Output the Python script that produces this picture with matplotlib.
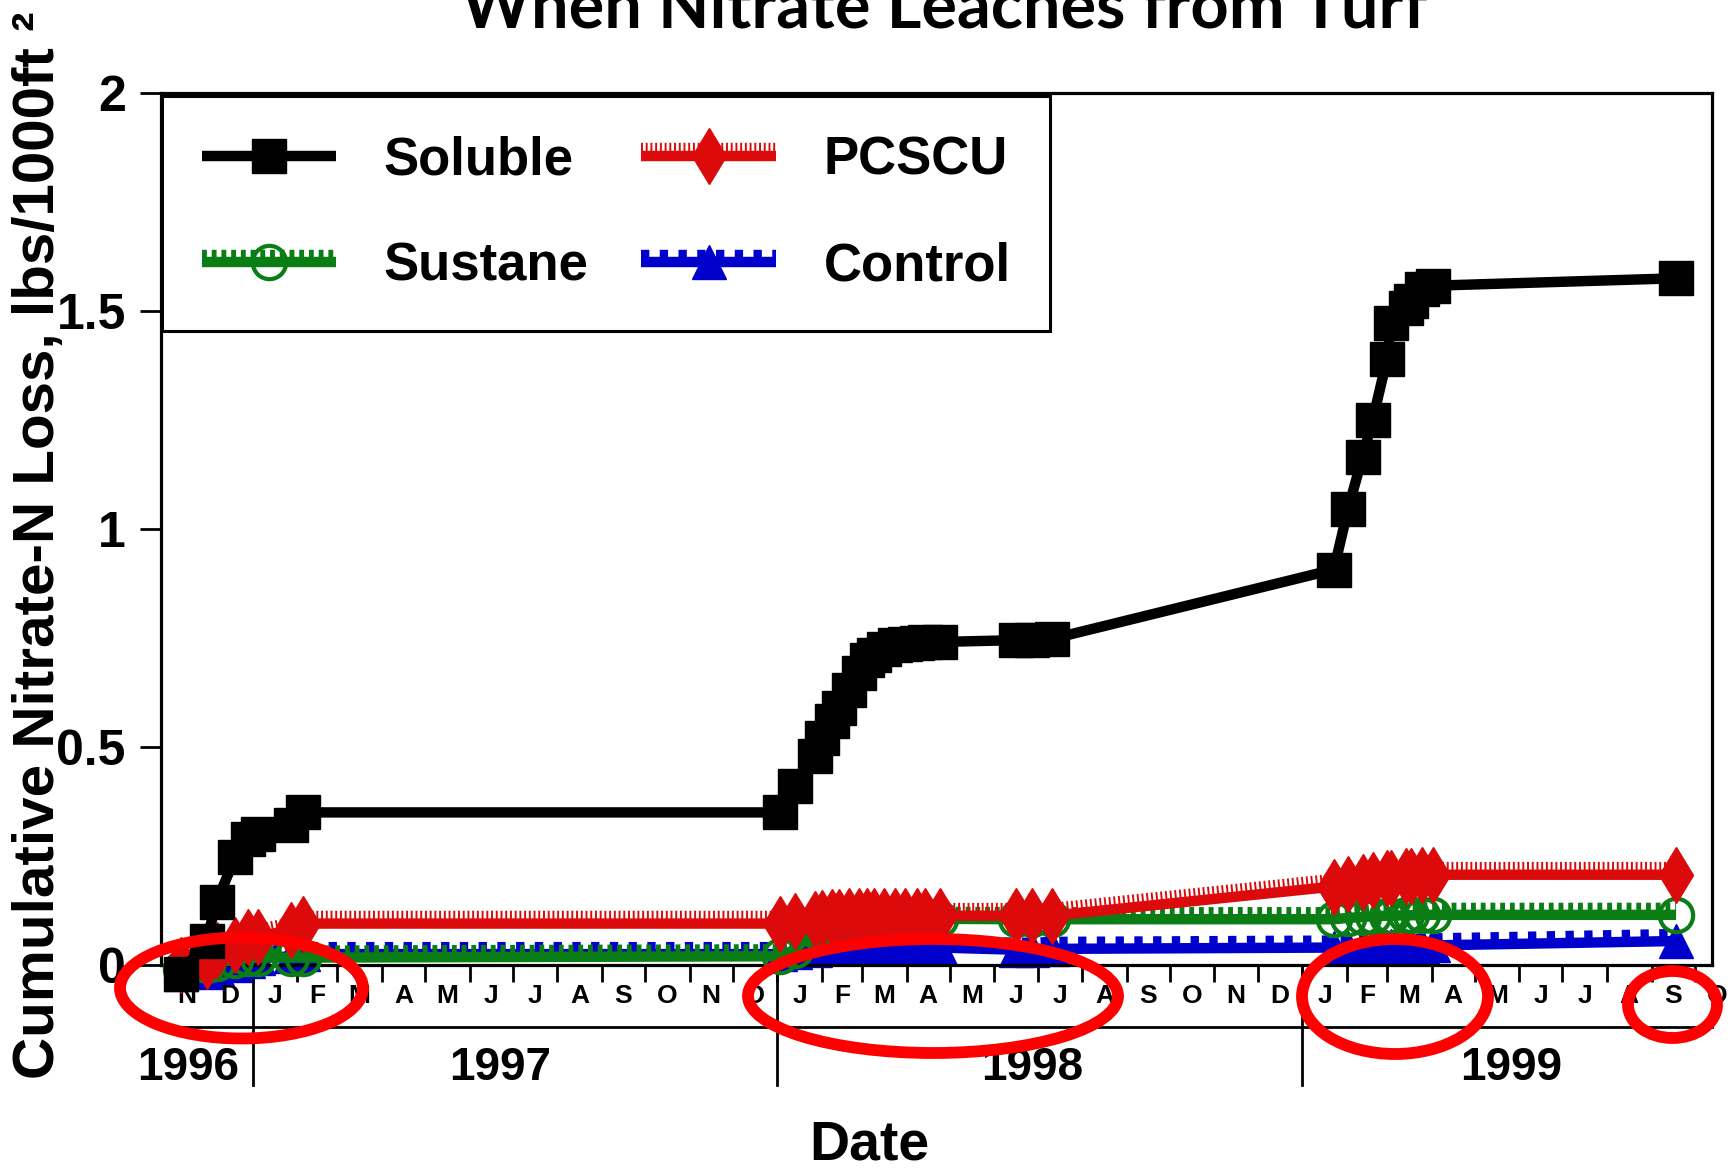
import matplotlib
matplotlib.use('Agg')
import matplotlib.pyplot as plt
import matplotlib.dates as mdates
import matplotlib.patheffects as pe
import matplotlib.transforms as mtransforms
from matplotlib.patches import Ellipse
import pandas as pd

# sampling dates
dates = ['1996-11-12', '1996-11-30', '1996-12-07', '1996-12-20', '1996-12-29', '1997-01-05',
         '1997-01-28', '1997-02-05',
         '1998-01-03', '1998-01-13', '1998-01-27', '1998-02-01', '1998-02-08', '1998-02-13',
         '1998-02-20', '1998-02-27', '1998-03-04', '1998-03-09', '1998-03-16', '1998-03-24',
         '1998-03-31', '1998-04-08', '1998-04-14', '1998-04-24', '1998-06-16', '1998-06-27',
         '1998-07-11',
         '1999-01-23', '1999-02-02', '1999-02-12', '1999-02-19', '1999-03-01', '1999-03-04',
         '1999-03-14', '1999-03-18', '1999-03-25', '1999-04-02', '1999-09-18']

soluble = [-0.02, 0.055, 0.145, 0.247, 0.29, 0.30, 0.32, 0.35,
           0.35, 0.41, 0.48, 0.52, 0.56, 0.59, 0.63, 0.67, 0.70, 0.71, 0.725, 0.733,
           0.737, 0.739, 0.740, 0.741, 0.745, 0.746, 0.748,
           0.907, 1.047, 1.166, 1.25, 1.39, 1.473, 1.508, 1.523, 1.55, 1.558, 1.575]
pcscu = [0.0, 0.01, 0.035, 0.045, 0.065, 0.065, 0.08, 0.095,
         0.095, 0.10, 0.105, 0.108, 0.11, 0.11, 0.112, 0.112, 0.112, 0.113, 0.113, 0.113,
         0.113, 0.113, 0.113, 0.113, 0.113, 0.113, 0.113,
         0.18, 0.185, 0.19, 0.195, 0.20, 0.20, 0.205, 0.205, 0.207, 0.207, 0.207]
sustane = [-0.01, 0.0, 0.005, 0.012, 0.016, 0.017, 0.017, 0.017,
           0.02, 0.035, 0.08, 0.09, 0.095, 0.10, 0.10, 0.10, 0.102, 0.103, 0.104, 0.105,
           0.105, 0.106, 0.106, 0.106, 0.105, 0.105, 0.105,
           0.105, 0.108, 0.11, 0.112, 0.113, 0.113, 0.114, 0.114, 0.115, 0.115, 0.115]
control = [-0.02, -0.015, -0.01, 0.0, 0.01, 0.015, 0.02, 0.025,
           0.025, 0.03, 0.035, 0.038, 0.04, 0.04, 0.04, 0.04, 0.04, 0.04, 0.04, 0.04,
           0.04, 0.04, 0.04, 0.04, 0.035, 0.035, 0.037,
           0.04, 0.04, 0.041, 0.042, 0.042, 0.043, 0.043, 0.044, 0.044, 0.045, 0.055]

month_letters = ['J', 'F', 'M', 'A', 'M', 'J', 'J', 'A', 'S', 'O', 'N', 'D']
years = [1996, 1997, 1998, 1999]
year_label_at = ['1996-11-17', '1997-06-22', '1998-06-27', '1999-05-26']
ytick_vals = [0, 0.5, 1, 1.5, 2]
ytick_labels = ['0', '0.5', '1', '1.5', '2']

plt.rcParams['font.family'] = ['Liberation Sans', 'DejaVu Sans']
plt.rcParams['font.weight'] = 'bold'
plt.rcParams['lines.scale_dashes'] = False

W, H = 1736, 1170
fig = plt.figure(figsize=(W / 100, H / 100), dpi=100)
ax = fig.add_axes([160.5 / W, 1 - 965 / H, (1712 - 160.5) / W, (965 - 93) / H])

x = mdates.datestr2num(dates)
xmin = mdates.datestr2num('1996-10-29')
xmax = mdates.datestr2num('1999-10-13')
ax.set_xlim(xmin, xmax)
ax.set_ylim(0, 2)


def comb(on, off, rise):
    # thick line with a row of teeth on its upper edge
    return [pe.Stroke(offset=(0, rise), dashes={'dash_offset': 0, 'dash_list': [on, off]}),
            pe.Normal()]


series = [
    ('Control', control, '#0000cc', '^', 25, comb(6, 7.5, 5)),
    ('Sustane', sustane, '#0a7d14', 'o', 24, comb(3.5, 3.5, 5)),
    ('PCSCU', pcscu, '#dc0a0a', 'd', 29, comb(1.4, 2.0, 5.5)),
    ('Soluble', soluble, 'black', 's', 25, None),
]

handles = {}
for i, (name, vals, col, mk, ms, effects) in enumerate(series):
    ln, = ax.plot(x, vals, color=col, lw=7.5, solid_capstyle='butt', clip_on=False,
                  zorder=2 + i)
    if effects:
        ln.set_path_effects(effects)
    if mk == 'o':
        pts, = ax.plot(x, vals, ls='none', marker=mk, ms=ms, mfc='none', mec=col, mew=3,
                       clip_on=False, zorder=2.5 + i)
    else:
        pts, = ax.plot(x, vals, ls='none', marker=mk, ms=ms, color=col, mec=col,
                       clip_on=False, zorder=2.5 + i)
    handles[name] = (ln, pts)

order = ['Soluble', 'Sustane', 'PCSCU', 'Control']
leg = ax.legend([handles[n] for n in order], order, ncol=2, loc='upper left',
                bbox_to_anchor=(0.001, 0.9966), borderaxespad=0, fontsize=38,
                handlelength=2.55, handletextpad=0.9, columnspacing=1.0,
                labelspacing=1.06, borderpad=0.75, numpoints=1, frameon=True,
                fancybox=False, edgecolor='black', framealpha=1)
leg.get_frame().set_linewidth(2.2)
leg.set_zorder(10)

# axes frame
for s in ax.spines.values():
    s.set_linewidth(2.3)

ax.set_yticks(ytick_vals)
ax.set_yticklabels(ytick_labels)
ax.tick_params(axis='y', direction='out', length=15, width=2, pad=10, labelsize=36)

# month ticks and letters
month_starts = pd.date_range('1996-11-01', '1999-11-01', freq='MS')
ms_num = mdates.date2num(month_starts.to_pydatetime())
ax.set_xticks(ms_num[:-1])
ax.set_xticklabels([])
ax.tick_params(axis='x', direction='out', length=12.5, width=2)

blend = mtransforms.blended_transform_factory(ax.transData, ax.transAxes)
for a, b, m in zip(ms_num[:-1], ms_num[1:], month_starts[:-1]):
    ax.text((a + b) / 2, -0.035, month_letters[m.month - 1], transform=blend,
            ha='center', va='center', fontsize=19, clip_on=False)

# month box bottom line and year separators
ax.plot([0, 1], [-0.0711, -0.0711], transform=ax.transAxes, color='black', lw=2,
        clip_on=False)
for yr in years[1:]:
    d = mdates.datestr2num(f'{yr}-01-01')
    ax.plot([d, d], [0, -0.1376], transform=blend, color='black', lw=2, clip_on=False)

for yr, at in zip(years, year_label_at):
    ax.text(mdates.datestr2num(at), -0.118, str(yr), transform=blend, ha='center',
            va='center', fontsize=33, clip_on=False)

fig.text(869 / W, 1 - 1146 / H, 'Date', ha='center', va='center', fontsize=40)
fig.text(39 / W, 1 - 545 / H, 'Cumulative Nitrate-N Loss, lbs/1000ft \u00b2', rotation=90,
         ha='center', va='center', fontsize=42)
fig.text(944 / W, 1 - 27 / H, 'When Nitrate Leaches from Turf', ha='center', va='baseline',
         fontsize=48, family=['Lato', 'DejaVu Sans'], weight='bold')

# red highlight ellipses drawn over the axis
for cx, cy, w, h in [(241.5, 988, 243, 101), (933, 996, 370, 114),
                     (1395, 996.5, 186, 115), (1672.5, 1004.5, 89, 67)]:
    fig.add_artist(Ellipse((cx / W, 1 - cy / H), w / W, h / H, transform=fig.transFigure,
                           fill=False, ec='#ff0000', lw=8.5, zorder=20))

fig.savefig('out.png', dpi=100)
